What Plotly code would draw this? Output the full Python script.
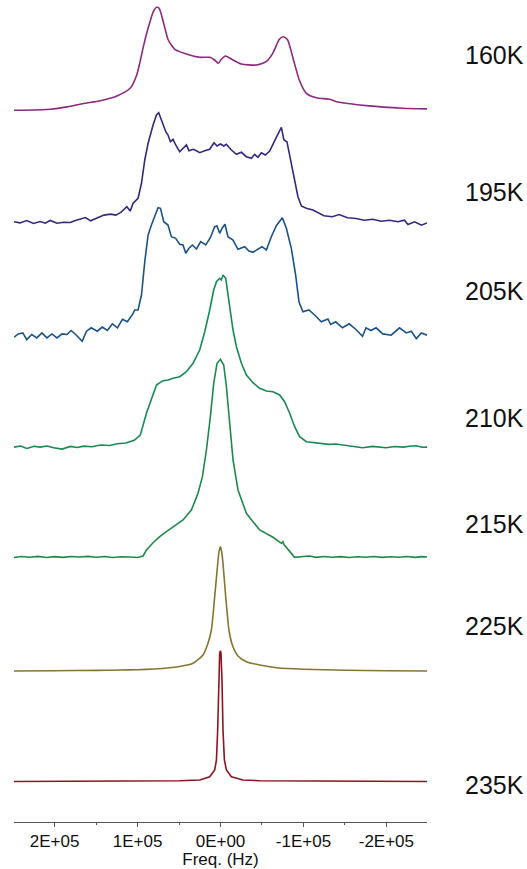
import plotly.graph_objects as go

# ---- data (frequency in kHz, intensity in arbitrary units above each baseline) ----
temperatures = ["160K", "195K", "205K", "210K", "215K", "225K", "235K"]

spec_160K = [(249, -0.8), (205, 0.3), (185, 2.6), (165, 6.0), (145, 8.7), (125, 13.5), (109, 21.2),
             (101, 34.5), (97, 47.8), (93, 62.8), (89, 76.2), (85, 87.8), (81, 97.8), (77, 102.2),
             (74, 101.2), (69, 87.8), (63, 69.5), (55, 60.2), (41, 55.5), (25, 52.2), (13, 52.2),
             (7, 49.5), (2.5, 46.2), (-1, 50.2), (-6, 53.5), (-15, 49.5), (-25, 45.5), (-43, 44.5),
             (-55, 47.8), (-63, 56.2), (-71, 70.2), (-76, 72.8), (-81, 69.5), (-87, 52.8), (-95, 29.5),
             (-103.5, 16.2), (-115.5, 11.8), (-131.6, 10.2), (-139, 8.0), (-179, 3.6), (-220, 1.3),
             (-249, 0.6)]

spec_195K = [(249.0, 0.2), (241.7, -0.9), (233.6, 1.5), (225.5, -1.5), (217.5, 0.5), (211.3, -1.2),
             (205.3, 1.5), (197.2, -1.2), (189.0, -0.2), (181.0, -0.5), (174.9, 1.5), (168.8, 3.2),
             (162.8, 4.5), (156.6, 1.2), (148.6, 3.8), (140.5, 6.9), (132.4, 7.9), (126.3, 6.9),
             (120.2, 9.6), (112.9, 15.3), (108.9, 10.9), (105.4, 18.7), (99.4, 23.7), (95.3, 38.7),
             (91.3, 62), (87.3, 78.7), (81.3, 97), (77.2, 107), (74.5, 109.3), (69.3, 98.7),
             (66.0, 90.3), (63.3, 87), (60.4, 80.3), (57.2, 82.7), (54.0, 77), (49.2, 70.3),
             (45.2, 73.7), (41.1, 77), (38.0, 71.3), (33.1, 72.7), (29.0, 71.3), (25.1, 69.3),
             (19.0, 71.3), (13.0, 72.7), (7.8, 79.3), (4.2, 76), (0.1, 78), (-3.9, 76), (-7.1, 77.7),
             (-13.1, 72), (-19.2, 67.7), (-25.2, 69.7), (-31.2, 65.3), (-37.2, 63.7), (-41.2, 67.7),
             (-45.2, 64.7), (-49.3, 69.3), (-54.1, 67), (-59.3, 71), (-63.3, 78.7), (-67.3, 84.7),
             (-73.4, 94.7), (-76.5, 82), (-80.1, 80.3), (-85.4, 58.7), (-89.4, 40.3), (-93.4, 25.3),
             (-97.5, 16), (-103.5, 13.7), (-111.4, 12), (-119.5, 8), (-124.8, 6.2), (-134.9, 5.2),
             (-143.0, 7.5), (-153.1, 4.2), (-163.3, 3.5), (-173.4, 1.8), (-183.5, 2.8), (-193.6, 0.8),
             (-203.7, 1.8), (-213.9, 0.2), (-221.9, 1.8), (-226.0, -2.5), (-234.1, 0.2),
             (-242.2, -3.2), (-249.0, -0.9)]

spec_205K = [(249.0, -1.2), (243.7, 2.1), (238.4, 3.1), (233.6, -3.6), (227.6, 1.5), (221.4, -1.9),
             (215.4, 3.1), (209.3, -1.9), (203.3, 2.1), (197.2, -1.9), (191.1, 2.1), (185.1, 1.5),
             (180.1, 5.5), (173.7, 0.8), (166.8, -5.3), (161.6, 4.8), (155.9, 8.2), (148.6, 4.8),
             (142.5, 8.9), (136.4, 5.5), (130.4, 12.2), (124.3, 8.2), (118.2, 16.6), (112.2, 14.2),
             (106.0, 21.6), (103.4, 26), (99.4, 26), (95.3, 41), (91.3, 74.3), (87.3, 101),
             (83.3, 111), (79.3, 119.3), (75.3, 128.3), (72.4, 127.7), (68.4, 114.3), (63.3, 111),
             (59.2, 99.3), (54.0, 97.7), (49.2, 91.7), (45.2, 91), (41.9, 82.7), (38.0, 87.7),
             (33.9, 91), (29.0, 87), (23.9, 94.3), (17.8, 91), (12.2, 98.3), (7.0, 109.3),
             (4.2, 110), (1.0, 102.7), (-2.3, 108.3), (-5.4, 111.7), (-9.0, 99.3), (-15.1, 96),
             (-21.1, 86.7), (-29.2, 89.3), (-34.3, 85), (-39.2, 83.7), (-43.3, 86), (-50.0, 89.3),
             (-55.3, 86), (-61.3, 99.3), (-67.3, 110.3), (-74.6, 118.3), (-79.4, 107.7),
             (-85.4, 87.7), (-90.6, 61), (-94.6, 34.3), (-99.4, 24.3), (-106.6, 26), (-113.5, 21),
             (-121.6, 14.3), (-129.5, 17), (-132.9, 11.5), (-138.9, 14.2), (-147.1, 8.2),
             (-155.2, 12.2), (-163.3, 6.5), (-171.3, -0.2), (-175.4, 8.2), (-181.4, 5.5),
             (-187.6, 8.2), (-195.7, 2.1), (-205.8, 0.8), (-215.9, 8.2), (-224.0, 3.1),
             (-230.1, 4.8), (-236.1, -2.6), (-242.2, 3.1), (-249.0, 0.8)]

spec_210K = [(249.0, -0.1), (241, 1), (233.6, -1.4), (225, 0.8), (217.5, -0.1), (209, 1), (201.2, -0.7),
             (191.1, -2.1), (181.0, 0.6), (173, -0.5), (164.8, 0.9), (155, 0.2), (144.6, 2.0),
             (134, 1.5), (124.3, 3.3), (114, 4), (104.0, 6.7), (96.7, 12), (89.3, 33.7), (83.3, 48.7),
             (77.2, 62), (69.3, 66.3), (63, 67), (57.2, 68.7), (49.2, 70.3), (41.1, 75.3),
             (33.1, 83.7), (25.1, 97), (19.0, 115.3), (13.0, 137), (8.2, 157), (4.9, 165.3),
             (1.0, 168.7), (-1.0, 167), (-3.0, 172), (-6.3, 168.7), (-9.0, 153.7), (-12.3, 133.7),
             (-15.1, 117), (-19.2, 100.3), (-25.2, 83.7), (-31.2, 72), (-39.2, 64.3), (-47.2, 58.7),
             (-55.3, 56), (-63.3, 55.3), (-71.3, 52), (-77.3, 45.3), (-83.4, 33.7), (-89.4, 20.3),
             (-95.4, 10.3), (-103.5, 5.3), (-111.4, 4.3), (-120, 3.5), (-130.8, 2.6), (-139, 3),
             (-147.1, 2.0), (-159.2, 0.9), (-171.3, -0.7), (-183.5, 0.6), (-199.8, -0.7),
             (-210, 0.5), (-220.0, -0.1), (-228, 0.8), (-236.1, 1.3), (-243, -0.3), (-249.0, -0.1)]

spec_215K = [(249, -0.5), (240, 0.5), (230, -0.3), (220, 0.6), (210, -0.5), (200, 0.4), (190, -0.4),
             (180, 0.5), (170, 0), (160, 0.6), (150, -0.3), (140, 0.5), (130, -0.5), (120, 0.3),
             (110, 0), (100, -0.5), (93.4, 1), (89.3, 7), (81.3, 14.3), (73.3, 20.3), (65.2, 25.3),
             (57.2, 30.3), (45.2, 37), (35.1, 47), (27.1, 63.7), (21.8, 80.3), (17.0, 107),
             (12.2, 140.3), (8.2, 173.7), (4.2, 193.7), (0.1, 197.7), (-3.9, 192), (-7.1, 170.3),
             (-11.1, 133.7), (-15.1, 97), (-21.1, 67), (-31.2, 43.7), (-47.2, 27), (-63.3, 19.7),
             (-73.4, 13.7), (-75.3, 15.3), (-76.5, 12.5), (-83.4, 5.3), (-89.4, -0.3), (-100, 0.5),
             (-107.5, 1), (-115, -0.4), (-125, 0.5), (-135, -0.3), (-145, 0.4), (-155, -0.5),
             (-165, 0.3), (-175, -0.2), (-185, 0.5), (-195, -0.4), (-205, 0.3), (-215, -0.3),
             (-225, 0.5), (-235, -0.4), (-242, 0.4), (-249, 0)]

spec_225K = [(249, 0), (200, 0.3), (150, 0.6), (120, 1), (100, 1.3), (80, 2), (63.6, 3), (49.2, 4.5),
             (33.1, 7.7), (21.1, 16), (15.1, 27.7), (11.0, 41), (7.0, 74.3), (3.7, 104.3),
             (1.8, 119.3), (0.1, 124.3), (-1.4, 119.3), (-3.0, 107.7), (-6.3, 74.3), (-10.2, 41),
             (-14.3, 26), (-21.1, 15), (-31.2, 9.3), (-47.2, 6), (-70, 3), (-100, 1.8), (-150, 0.8),
             (-200, 0.3), (-249, 0)]

spec_235K = [(249, 0), (150, 0.3), (100, 0.5), (49.2, 0.8), (25.1, 1.5), (13.0, 4.8), (7.0, 11.5),
             (4.9, 21.5), (3.4, 51.5), (2.2, 101.5), (1.0, 128), (0.1, 130.8), (-0.6, 128),
             (-1.8, 101.5), (-3.0, 51.5), (-4.7, 21.5), (-7.1, 11.5), (-13.1, 4.8), (-27.1, 1.5),
             (-47.2, 0.8), (-100, 0.5), (-150, 0.3), (-249, 0)]

spectra = [spec_160K, spec_195K, spec_205K, spec_210K, spec_215K, spec_225K, spec_235K]

tick_values = [200000, 100000, 0, -100000, -200000]
tick_labels = ["2E+05", "1E+05", "0E+00", "-1E+05", "-2E+05"]
minor_tick_values = [150000, 50000, -50000, -150000]

# ---- styling / stacking ----
colors = ["#8B2A7E", "#34287F", "#1B5289", "#178A55", "#1D8A4A", "#857530", "#8E1420"]
shapes = ["spline", "linear", "linear", "linear", "linear", "spline", "linear"]
offsets = [712.5, 600, 486, 375, 265, 151, 40.5]
label_y = [767.4, 629.6, 531.2, 404, 297.8, 196.5, 37]

FONT = "Liberation Sans, Arial, Helvetica, sans-serif"

fig = go.Figure()
for name, spec, col, shp, off in zip(temperatures, spectra, colors, shapes, offsets):
    xs = [p[0] * 1000 for p in spec]
    ys = [p[1] + off for p in spec]
    fig.add_trace(go.Scatter(x=xs, y=ys, mode="lines", name=name,
                             line=dict(color=col, width=1.6, shape=shp, smoothing=0.6),
                             hoverinfo="skip"))

for name, ly in zip(temperatures, label_y):
    fig.add_annotation(text=name, xref="paper", x=1, xanchor="left", xshift=36,
                       yref="y", y=ly, yanchor="middle", showarrow=False,
                       font=dict(size=25, color="#111111", family=FONT))

fig.update_xaxes(range=[249000, -249000], tickmode="array", tickvals=tick_values,
                 ticktext=tick_labels, ticks="outside", ticklen=4, tickwidth=1, tickcolor="#555555",
                 showline=True, linecolor="#555555", linewidth=1, showgrid=False, zeroline=False,
                 minor=dict(tickmode="array", tickvals=minor_tick_values, ticks="outside",
                            ticklen=2, tickcolor="#555555", showgrid=False),
                 tickfont=dict(size=17, color="#111111", family=FONT),
                 title=dict(text="Freq. (Hz)", font=dict(size=17, color="#111111", family=FONT),
                            standoff=0))
fig.update_yaxes(range=[0, 822], visible=False, showgrid=False, zeroline=False)

fig.update_layout(width=527, height=869, margin=dict(l=14, r=100, t=0, b=47),
                  paper_bgcolor="white", plot_bgcolor="white", showlegend=False)

fig.write_html("out.html", config={"displayModeBar": False, "staticPlot": True},
               post_script="document.body.style.margin='0px';document.body.style.overflow='hidden';")
